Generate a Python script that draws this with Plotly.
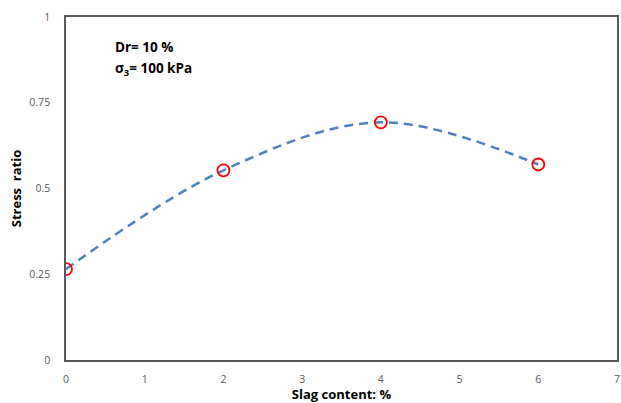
import plotly.graph_objects as go

slag_content = [0, 2, 4, 6]
stress_ratio = [0.265, 0.553, 0.693, 0.570]

x_ticks = [0, 1, 2, 3, 4, 5, 6, 7]
y_ticks = [0, 0.25, 0.5, 0.75, 1]
y_tick_text = ["0", "0.25", "0.5", "0.75", "1"]

fig = go.Figure()
fig.add_trace(go.Scatter(
    x=slag_content, y=stress_ratio, mode="lines",
    line=dict(color="#4F81BD", width=2.5, dash="9px,6px", shape="spline", smoothing=1.0),
    hoverinfo="skip", showlegend=False))
fig.add_trace(go.Scatter(
    x=slag_content, y=stress_ratio, mode="markers",
    marker=dict(symbol="circle-open", size=12, color="#FF0000", line=dict(width=1.8, color="#FF0000")),
    showlegend=False))

font_family = "Open Sans, Lato, sans-serif"
fig.update_layout(
    width=621, height=403,
    margin=dict(l=66, r=4, t=17, b=43, autoexpand=False),
    paper_bgcolor="white", plot_bgcolor="white",
    font=dict(family=font_family, color="#595959", size=10.5),
    xaxis=dict(range=[0, 7], tickvals=x_ticks, showgrid=False, zeroline=False,
               showline=True, mirror=True, linecolor="#595959", linewidth=1.5,
               ticks="", ticklabelstandoff=9, tickfont=dict(size=10.5, color="#595959"),
               title=dict(text="<b>Slag content: %</b>", standoff=7,
                          font=dict(size=13, color="#000000"))),
    yaxis=dict(range=[0, 1], tickvals=y_ticks, ticktext=y_tick_text, showgrid=False, zeroline=False,
               showline=True, mirror=True, linecolor="#595959", linewidth=1.5,
               ticks="", ticklabelstandoff=12, tickfont=dict(size=10.5, color="#595959"),
               title=dict(text="<b>Stress  ratio</b>", standoff=5,
                          font=dict(size=13, color="#000000"))),
    annotations=[
        dict(x=113, y=47, xref="paper", yref="paper", text="<b>Dr= 10 %</b>", showarrow=False,
             xanchor="left", yanchor="middle", font=dict(size=13.5, color="#000000")),
        dict(x=113, y=69, xref="paper", yref="paper", text="<b>σ<sub>3</sub>= 100 kPa</b>", showarrow=False,
             xanchor="left", yanchor="middle", font=dict(size=13.5, color="#000000")),
    ],
)
# convert pixel positions of annotations into paper coordinates
pw = 621 - 66 - 4
ph = 403 - 17 - 43
for a in fig.layout.annotations:
    a.x = (a.x - 66) / pw
    a.y = 1 - (a.y - 17) / ph

fig.write_html("out.html", config={"displayModeBar": False},
               post_script="document.body.style.margin='0';document.body.style.overflow='hidden';")
